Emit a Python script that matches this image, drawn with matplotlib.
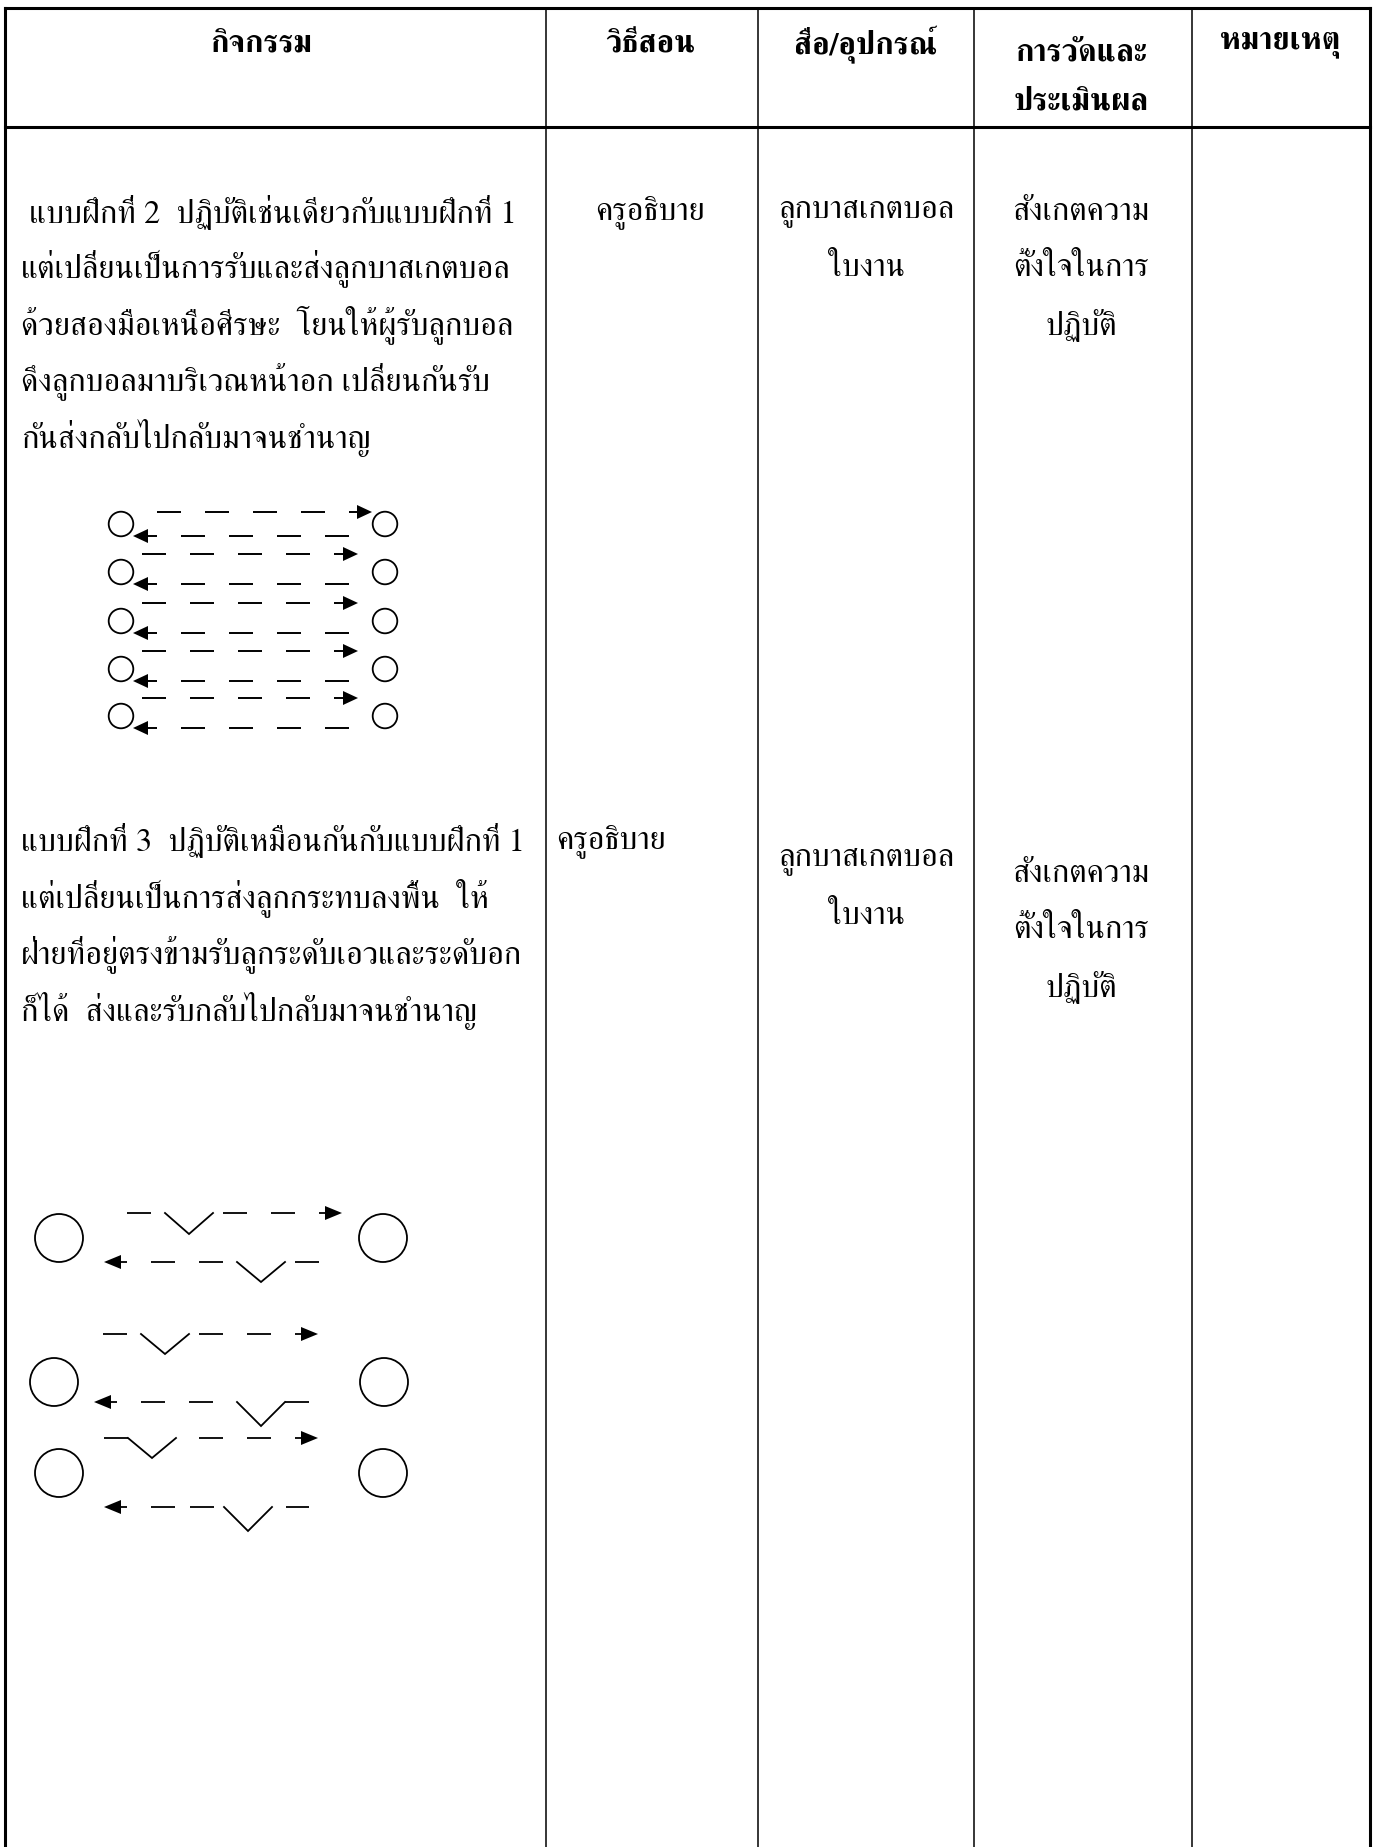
import matplotlib
matplotlib.use("Agg")
import matplotlib.pyplot as plt
from matplotlib.patches import Circle, Polygon

# ---------------- content ----------------
HEADERS = ["กิจกรรม", "วิธีสอน", "สื่อ/อุปกรณ์", ["การวัดและ", "ประเมินผล"], "หมายเหตุ"]

ACT2_LINES = [
    " แบบฝึกที่ 2  ปฏิบัติเช่นเดียวกับแบบฝึกที่ 1",
    "แต่เปลี่ยนเป็นการรับและส่งลูกบาสเกตบอล",
    "ด้วยสองมือเหนือศีรษะ  โยนให้ผู้รับลูกบอล",
    "ดึงลูกบอลมาบริเวณหน้าอก เปลี่ยนกันรับ",
    "กันส่งกลับไปกลับมาจนชำนาญ",
]
ACT3_LINES = [
    "แบบฝึกที่ 3  ปฏิบัติเหมือนกันกับแบบฝึกที่ 1",
    "แต่เปลี่ยนเป็นการส่งลูกกระทบลงพื้น  ให้",
    "ฝ่ายที่อยู่ตรงข้ามรับลูกระดับเอวและระดับอก",
    "ก็ได้  ส่งและรับกลับไปกลับมาจนชำนาญ",
]
METHOD = ["ครูอธิบาย"]
MEDIA = ["ลูกบาสเกตบอล", "ใบงาน"]
EVAL = ["สังเกตความ", "ตั้งใจในการ", "ปฏิบัติ"]

FAM = ["Kinnari", "Norasi", "FreeSerif", "DejaVu Serif"]

# ---------------- figure ----------------
W, H = 1376, 1847
fig = plt.figure(figsize=(W / 100, H / 100), dpi=100)
ax = fig.add_axes([0, 0, 1, 1])
ax.set_xlim(0, W)
ax.set_ylim(H, 0)
ax.axis("off")
renderer = fig.canvas.get_renderer()


def fit_size(sample, target_w, weight="normal"):
    t = ax.text(0, 0, sample, fontsize=20, family=FAM, weight=weight)
    w = t.get_window_extent(renderer).width
    t.remove()
    return 20 * target_w / w


BODY_FS = fit_size(ACT2_LINES[1], 489)
HEAD_FS = fit_size("การวัดและ", 132, "bold")

# ---------------- table grid ----------------
COL_X = [5, 546, 758, 974, 1192, 1370]
TOP_Y, HEAD_Y = 8, 127
thick, thin = 2.2, 1.1
ax.plot([COL_X[0], COL_X[-1]], [TOP_Y, TOP_Y], color="k", lw=thick, solid_capstyle="projecting")
ax.plot([COL_X[0], COL_X[-1]], [HEAD_Y, HEAD_Y], color="k", lw=thick, solid_capstyle="projecting")
for i, x in enumerate(COL_X):
    lw = thick if i in (0, len(COL_X) - 1) else thin
    ax.plot([x, x], [TOP_Y, H + 5], color="k", lw=lw)

# ---------------- header ----------------
HEAD_CX = [261, 650, 866, 1081, 1280]
for cx, h in zip(HEAD_CX, HEADERS):
    if isinstance(h, list):
        for j, s in enumerate(h):
            ax.text(cx, 53 + j * 49, s, ha="center", va="center", fontsize=HEAD_FS,
                    family=FAM, weight="bold")
    else:
        ax.text(cx, 45, h, ha="center", va="center", fontsize=HEAD_FS, family=FAM, weight="bold")

# ---------------- body text ----------------
LS = 56.5
for i, s in enumerate(ACT2_LINES):
    ax.text(21, 212 + i * LS, s, ha="left", va="center", fontsize=BODY_FS, family=FAM)
for i, s in enumerate(ACT3_LINES):
    ax.text(21, 841 + i * LS, s, ha="left", va="center", fontsize=BODY_FS, family=FAM)

ax.text(650, 212, METHOD[0], ha="center", va="center", fontsize=BODY_FS, family=FAM)
ax.text(556, 841, METHOD[0], ha="left", va="center", fontsize=BODY_FS, family=FAM)
for i, s in enumerate(MEDIA):
    ax.text(866, 212 + i * LS, s, ha="center", va="center", fontsize=BODY_FS, family=FAM)
    ax.text(866, 860 + i * LS, s, ha="center", va="center", fontsize=BODY_FS, family=FAM)
for i, s in enumerate(EVAL):
    ax.text(1081, 212 + i * LS, s, ha="center", va="center", fontsize=BODY_FS, family=FAM)
    ax.text(1081, 874 + i * LS, s, ha="center", va="center", fontsize=BODY_FS, family=FAM)


# ---------------- diagram helpers ----------------
def seg(x0, x1, y, lw):
    ax.plot([x0, x1], [y, y], color="k", lw=lw, solid_capstyle="butt")


def head(x_tip, y, direction, hl, hw):
    base = x_tip - direction * hl
    ax.add_patch(Polygon([[x_tip, y], [base, y - hw], [base, y + hw]], closed=True,
                         fc="k", ec="none"))
    return base


def dashed_arrow(y, x_start, x_tip, dash=24, gap=24, hl=15, hw=7, lw=1.4):
    d = 1 if x_tip > x_start else -1
    L = abs(x_tip - x_start)
    pieces = []
    p = 0
    while p < L:
        pieces.append((p, min(p + dash, L)))
        p += dash + gap
    for a, b in pieces[:-1]:
        seg(x_start + d * a, x_start + d * b, y, lw)
    a, _ = pieces[-1]
    base = head(x_tip, y, d, hl, hw)
    seg(x_start + d * a, base, y, lw)


def elements(y, items, lw=1.3, hl=17, hw=7):
    for it in items:
        kind = it[0]
        if kind == "d":
            seg(it[1], it[2], y, lw)
        elif kind == "v":
            x0, x1, depth = it[1], it[2], it[3]
            ax.plot([x0, (x0 + x1) / 2, x1], [y, y + depth, y], color="k", lw=lw,
                    solid_joinstyle="miter")
        elif kind == "a":
            x_from, x_tip = it[1], it[2]
            d = 1 if x_tip > x_from else -1
            base = head(x_tip, y, d, hl, hw)
            seg(x_from, base, y, lw)


# ---------------- diagram 1 (five pairs) ----------------
D1_Y = [524, 572, 621, 669, 716]
D1_LX, D1_RX, D1_R = 121, 385, 12.3
for y in D1_Y:
    ax.add_patch(Circle((D1_LX, y), D1_R, fill=False, lw=1.3, ec="k"))
    ax.add_patch(Circle((D1_RX, y), D1_R, fill=False, lw=1.3, ec="k"))
for k, y in enumerate(D1_Y):
    if k == 0:
        dashed_arrow(y - 12, 157, 372)
    else:
        dashed_arrow(y - 18, 142, 358)
    dashed_arrow(y + 12, 349, 133)

# ---------------- diagram 2 (bounce pass) ----------------
D2_ROWS = [
    dict(y=1238, lx=59, rx=383,
         top=(1213, [("d", 127, 151), ("v", 165, 213, 21), ("d", 223, 247), ("d", 271, 295), ("a", 319, 342)]),
         bot=(1262, [("a", 127, 104), ("d", 151, 175), ("d", 199, 223), ("v", 237, 285, 20), ("d", 295, 319)])),
    dict(y=1382, lx=54, rx=384,
         top=(1334, [("d", 103, 127), ("v", 141, 189, 20), ("d", 199, 223), ("d", 247, 271), ("a", 295, 318)]),
         bot=(1402, [("a", 117, 94), ("d", 141, 165), ("d", 189, 213), ("v", 237, 285, 24), ("d", 285, 309)])),
    dict(y=1473, lx=59, rx=383,
         top=(1438, [("d", 104, 128), ("v", 128, 176, 20), ("d", 199, 223), ("d", 247, 271), ("a", 295, 318)]),
         bot=(1507, [("a", 127, 104), ("d", 151, 175), ("d", 190, 214), ("v", 224, 272, 24), ("d", 286, 309)])),
]
for r in D2_ROWS:
    ax.add_patch(Circle((r["lx"], r["y"]), 24, fill=False, lw=1.3, ec="k"))
    ax.add_patch(Circle((r["rx"], r["y"]), 24, fill=False, lw=1.3, ec="k"))
    elements(r["top"][0], r["top"][1])
    elements(r["bot"][0], r["bot"][1])

fig.savefig("out.png", dpi=100, facecolor="white")
